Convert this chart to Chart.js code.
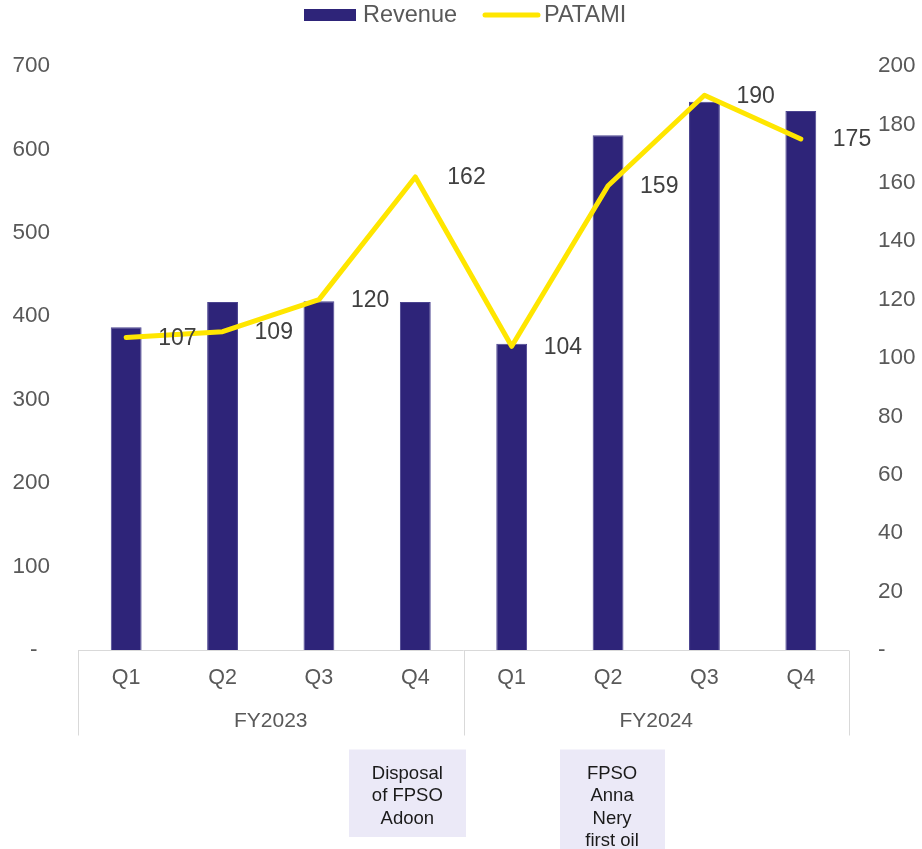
<!DOCTYPE html>
<html>
<head>
<meta charset="utf-8">
<script src="https://cdn.jsdelivr.net/npm/chart.js@4.4.1/dist/chart.umd.min.js"></script>
<style>
  html, body { margin: 0; padding: 0; background: #ffffff; }
  #wrap { width: 922px; height: 849px; position: relative; }
  canvas { display: block; }
</style>
</head>
<body>
<div id="wrap"><canvas id="chart" width="922" height="849"></canvas></div>
<script>
// Quarterly revenue (left axis) and PATAMI (right axis), USD million
const quarters = ['Q1', 'Q2', 'Q3', 'Q4', 'Q1', 'Q2', 'Q3', 'Q4'];
const fiscalYears = ['FY2023', 'FY2024'];
const quartersPerYear = 4;
const revenue = [387, 417, 418, 417, 367, 617, 657, 646];
const patami = [107, 109, 120, 162, 104, 159, 190, 175];
const revenueAxis = { max: 700, step: 100 };
const patamiAxis = { max: 200, step: 20 };
const noteQuarters = [3, 5];
const noteTexts = [
  ['Disposal', 'of FPSO', 'Adoon'],
  ['FPSO', 'Anna', 'Nery', 'first oil']
];

const FONT = "'Liberation Sans', Arial, sans-serif";
const NAVY = '#2E2479';
const YELLOW = '#FFE600';
const GREY_TEXT = '#595959';
const RULE = '#d9d9d9';

const extras = {
  id: 'extras',
  afterDatasetsDraw(chart) {
    const ctx = chart.ctx;
    const meta = chart.getDatasetMeta(0);
    ctx.save();
    ctx.font = '23px ' + FONT;
    ctx.fillStyle = '#404040';
    ctx.textAlign = 'left';
    ctx.textBaseline = 'middle';
    meta.data.forEach((pt, i) => {
      ctx.fillText(String(patami[i]), pt.x + 32, pt.y + 1);
    });
    ctx.restore();
  },
  afterDraw(chart) {
    const ctx = chart.ctx;
    const area = chart.chartArea;
    const xs = chart.scales.x;
    ctx.save();

    // category axis frame
    ctx.strokeStyle = RULE;
    ctx.lineWidth = 1;
    const base = Math.round(area.bottom) + 0.5;
    const depth = 85;
    ctx.beginPath();
    ctx.moveTo(area.left, base);
    ctx.lineTo(area.right, base);
    const seps = [area.left];
    for (let g = 1; g < fiscalYears.length; g++) {
      const i = g * quartersPerYear;
      seps.push((xs.getPixelForValue(i - 1) + xs.getPixelForValue(i)) / 2);
    }
    seps.push(area.right);
    seps.forEach(sx => {
      const px = Math.round(sx) + 0.5;
      ctx.moveTo(px, base);
      ctx.lineTo(px, base + depth);
    });
    ctx.stroke();

    // fiscal year group labels
    ctx.font = '21px ' + FONT;
    ctx.fillStyle = GREY_TEXT;
    ctx.textAlign = 'center';
    ctx.textBaseline = 'middle';
    fiscalYears.forEach((fy, g) => {
      const cx = (seps[g] + seps[g + 1]) / 2;
      ctx.fillText(fy, cx, base + 71);
    });

    // event notes below the axis
    const boxWidths = [117, 105];
    const shifts = [-8, 4];
    const lineH = 22.5;
    ctx.font = '18.5px ' + FONT;
    noteTexts.forEach((lines, n) => {
      const cx = xs.getPixelForValue(noteQuarters[n]) + shifts[n];
      const top = base + 99;
      const h = lines.length * lineH + 20;
      ctx.fillStyle = '#EBE9F7';
      ctx.fillRect(Math.round(cx - boxWidths[n] / 2), top, boxWidths[n], h);
      ctx.fillStyle = '#1a1a1a';
      lines.forEach((t, k) => {
        ctx.fillText(t, cx, top + 24 + k * lineH);
      });
    });

    // legend
    const mid = chart.width / 2;
    const ly = 15;
    ctx.font = '23.5px ' + FONT;
    ctx.textAlign = 'left';
    ctx.fillStyle = NAVY;
    ctx.fillRect(mid - 157, ly - 6, 52, 12);
    ctx.fillStyle = GREY_TEXT;
    ctx.fillText('Revenue', mid - 98, ly + 1);
    ctx.strokeStyle = YELLOW;
    ctx.lineWidth = 5;
    ctx.lineCap = 'round';
    ctx.beginPath();
    ctx.moveTo(mid + 24, ly);
    ctx.lineTo(mid + 77, ly);
    ctx.stroke();
    ctx.fillStyle = GREY_TEXT;
    ctx.fillText('PATAMI', mid + 83, ly + 1);

    ctx.restore();
  }
};

new Chart(document.getElementById('chart'), {
  data: {
    labels: quarters,
    datasets: [
      {
        type: 'line',
        label: 'PATAMI',
        data: patami,
        yAxisID: 'y1',
        borderColor: YELLOW,
        borderWidth: 5,
        borderCapStyle: 'round',
        borderJoinStyle: 'round',
        pointRadius: 0,
        tension: 0,
        order: 0
      },
      {
        type: 'bar',
        label: 'Revenue',
        data: revenue,
        yAxisID: 'y',
        backgroundColor: NAVY,
        borderColor: '#4b4490',
        borderWidth: 1,
        categoryPercentage: 1,
        barPercentage: 0.32,
        order: 1
      }
    ]
  },
  options: {
    responsive: false,
    animation: false,
    devicePixelRatio: 1,
    layout: { padding: { top: 66, left: 0, right: 0, bottom: 0 } },
    plugins: { legend: { display: false }, tooltip: { enabled: false } },
    scales: {
      x: {
        offset: true,
        grid: { display: false, drawTicks: false },
        border: { display: false },
        ticks: { font: { family: FONT, size: 21.5 }, color: GREY_TEXT, padding: 15, maxRotation: 0, autoSkip: false },
        afterFit(s) { s.height = 199; }
      },
      y: {
        position: 'left',
        min: 0,
        max: revenueAxis.max,
        grid: { display: false, drawTicks: false },
        border: { display: false },
        ticks: {
          stepSize: revenueAxis.step,
          font: { family: FONT, size: 22.5 },
          color: GREY_TEXT,
          padding: 28,
          callback: v => (v === 0 ? '-  ' : String(v))
        },
        afterFit(s) { s.width = 78; }
      },
      y1: {
        position: 'right',
        min: 0,
        max: patamiAxis.max,
        grid: { display: false, drawTicks: false },
        border: { display: false },
        ticks: {
          stepSize: patamiAxis.step,
          font: { family: FONT, size: 22.5 },
          color: GREY_TEXT,
          padding: 29,
          callback: v => (v === 0 ? '-' : String(v))
        },
        afterFit(s) { s.width = 73; }
      }
    }
  },
  plugins: [extras]
});
</script>
</body>
</html>
